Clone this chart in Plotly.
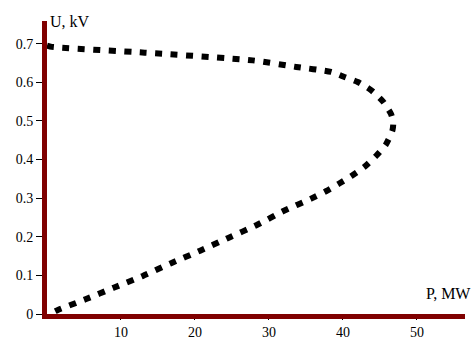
import plotly.graph_objects as go

# P (MW) and U (kV) along the PV curve: upper branch -> nose -> lower branch
p_mw = [0.0, 0.65, 13.2, 27.8, 33.7, 38.4, 40.2, 42.0, 43.8, 45.4, 46.5, 46.8, 46.7,
        45.8, 44.5, 42.9, 41.1, 39.5, 37.7, 35.7, 32.1, 28.3, 24.5, 20.7, 16.7,
        12.9, 9.0, 5.2, 1.4, 0.3]
u_kv = [0.695, 0.692, 0.677, 0.657, 0.640, 0.627, 0.614, 0.601, 0.580, 0.551, 0.518, 0.497, 0.476,
        0.439, 0.410, 0.381, 0.357, 0.338, 0.318, 0.299, 0.268, 0.230, 0.197, 0.164, 0.131,
        0.098, 0.068, 0.038, 0.010, 0.0]

x_ticks = [10, 20, 30, 40, 50]
x_tick_text = ["10", "20", "30", "40", "50"]
y_ticks = [0, 0.1, 0.2, 0.3, 0.4, 0.5, 0.6, 0.7]
y_tick_text = ["0", "0.1", "0.2", "0.3", "0.4", "0.5", "0.6", "0.7"]

axis_color = "#800000"
serif = "Liberation Serif, Times New Roman, serif"

fig = go.Figure()
fig.add_trace(go.Scatter(
    x=p_mw, y=u_kv, mode="lines",
    line=dict(color="black", width=6, dash="7px,8.5px", shape="spline", smoothing=0.6),
    hoverinfo="skip", showlegend=False, cliponaxis=False,
))

fig.update_layout(
    template="none",
    width=474, height=340,
    margin=dict(l=46.5, r=9, t=21, b=26, autoexpand=False),
    paper_bgcolor="white", plot_bgcolor="white",
    showlegend=False,
    font=dict(family=serif, size=14, color="black"),
    xaxis=dict(
        range=[0, 56.5], showgrid=False, zeroline=False, automargin=False,
        showline=True, linecolor=axis_color, linewidth=5,
        ticks="outside", ticklen=1, tickwidth=1, tickcolor="black",
        tickvals=x_ticks, ticktext=x_tick_text,
        tickfont=dict(family=serif, size=14, color="black"),
    ),
    yaxis=dict(
        range=[0, 0.759], showgrid=False, zeroline=False, automargin=False,
        showline=True, linecolor=axis_color, linewidth=5,
        ticks="outside", ticklen=6, tickwidth=1, tickcolor="black",
        tickvals=y_ticks, ticktext=y_tick_text,
        tickfont=dict(family=serif, size=14, color="black"),
    ),
    annotations=[
        dict(text="U, kV", xref="paper", yref="paper", x=0, y=1,
             xanchor="left", yanchor="middle", showarrow=False, xshift=1,
             font=dict(family=serif, size=16, color="black")),
        dict(text="P, MW", xref="paper", yref="paper", x=1, y=0,
             xanchor="right", yanchor="middle", showarrow=False, xshift=8, yshift=21,
             font=dict(family=serif, size=16, color="black")),
    ],
)

# remove the page's default body margin so the 474x340 figure fills the window
fig.write_html(
    "out.html",
    config={"displayModeBar": False, "staticPlot": True},
    post_script="document.body.style.margin='0';document.body.style.overflow='hidden';",
)
